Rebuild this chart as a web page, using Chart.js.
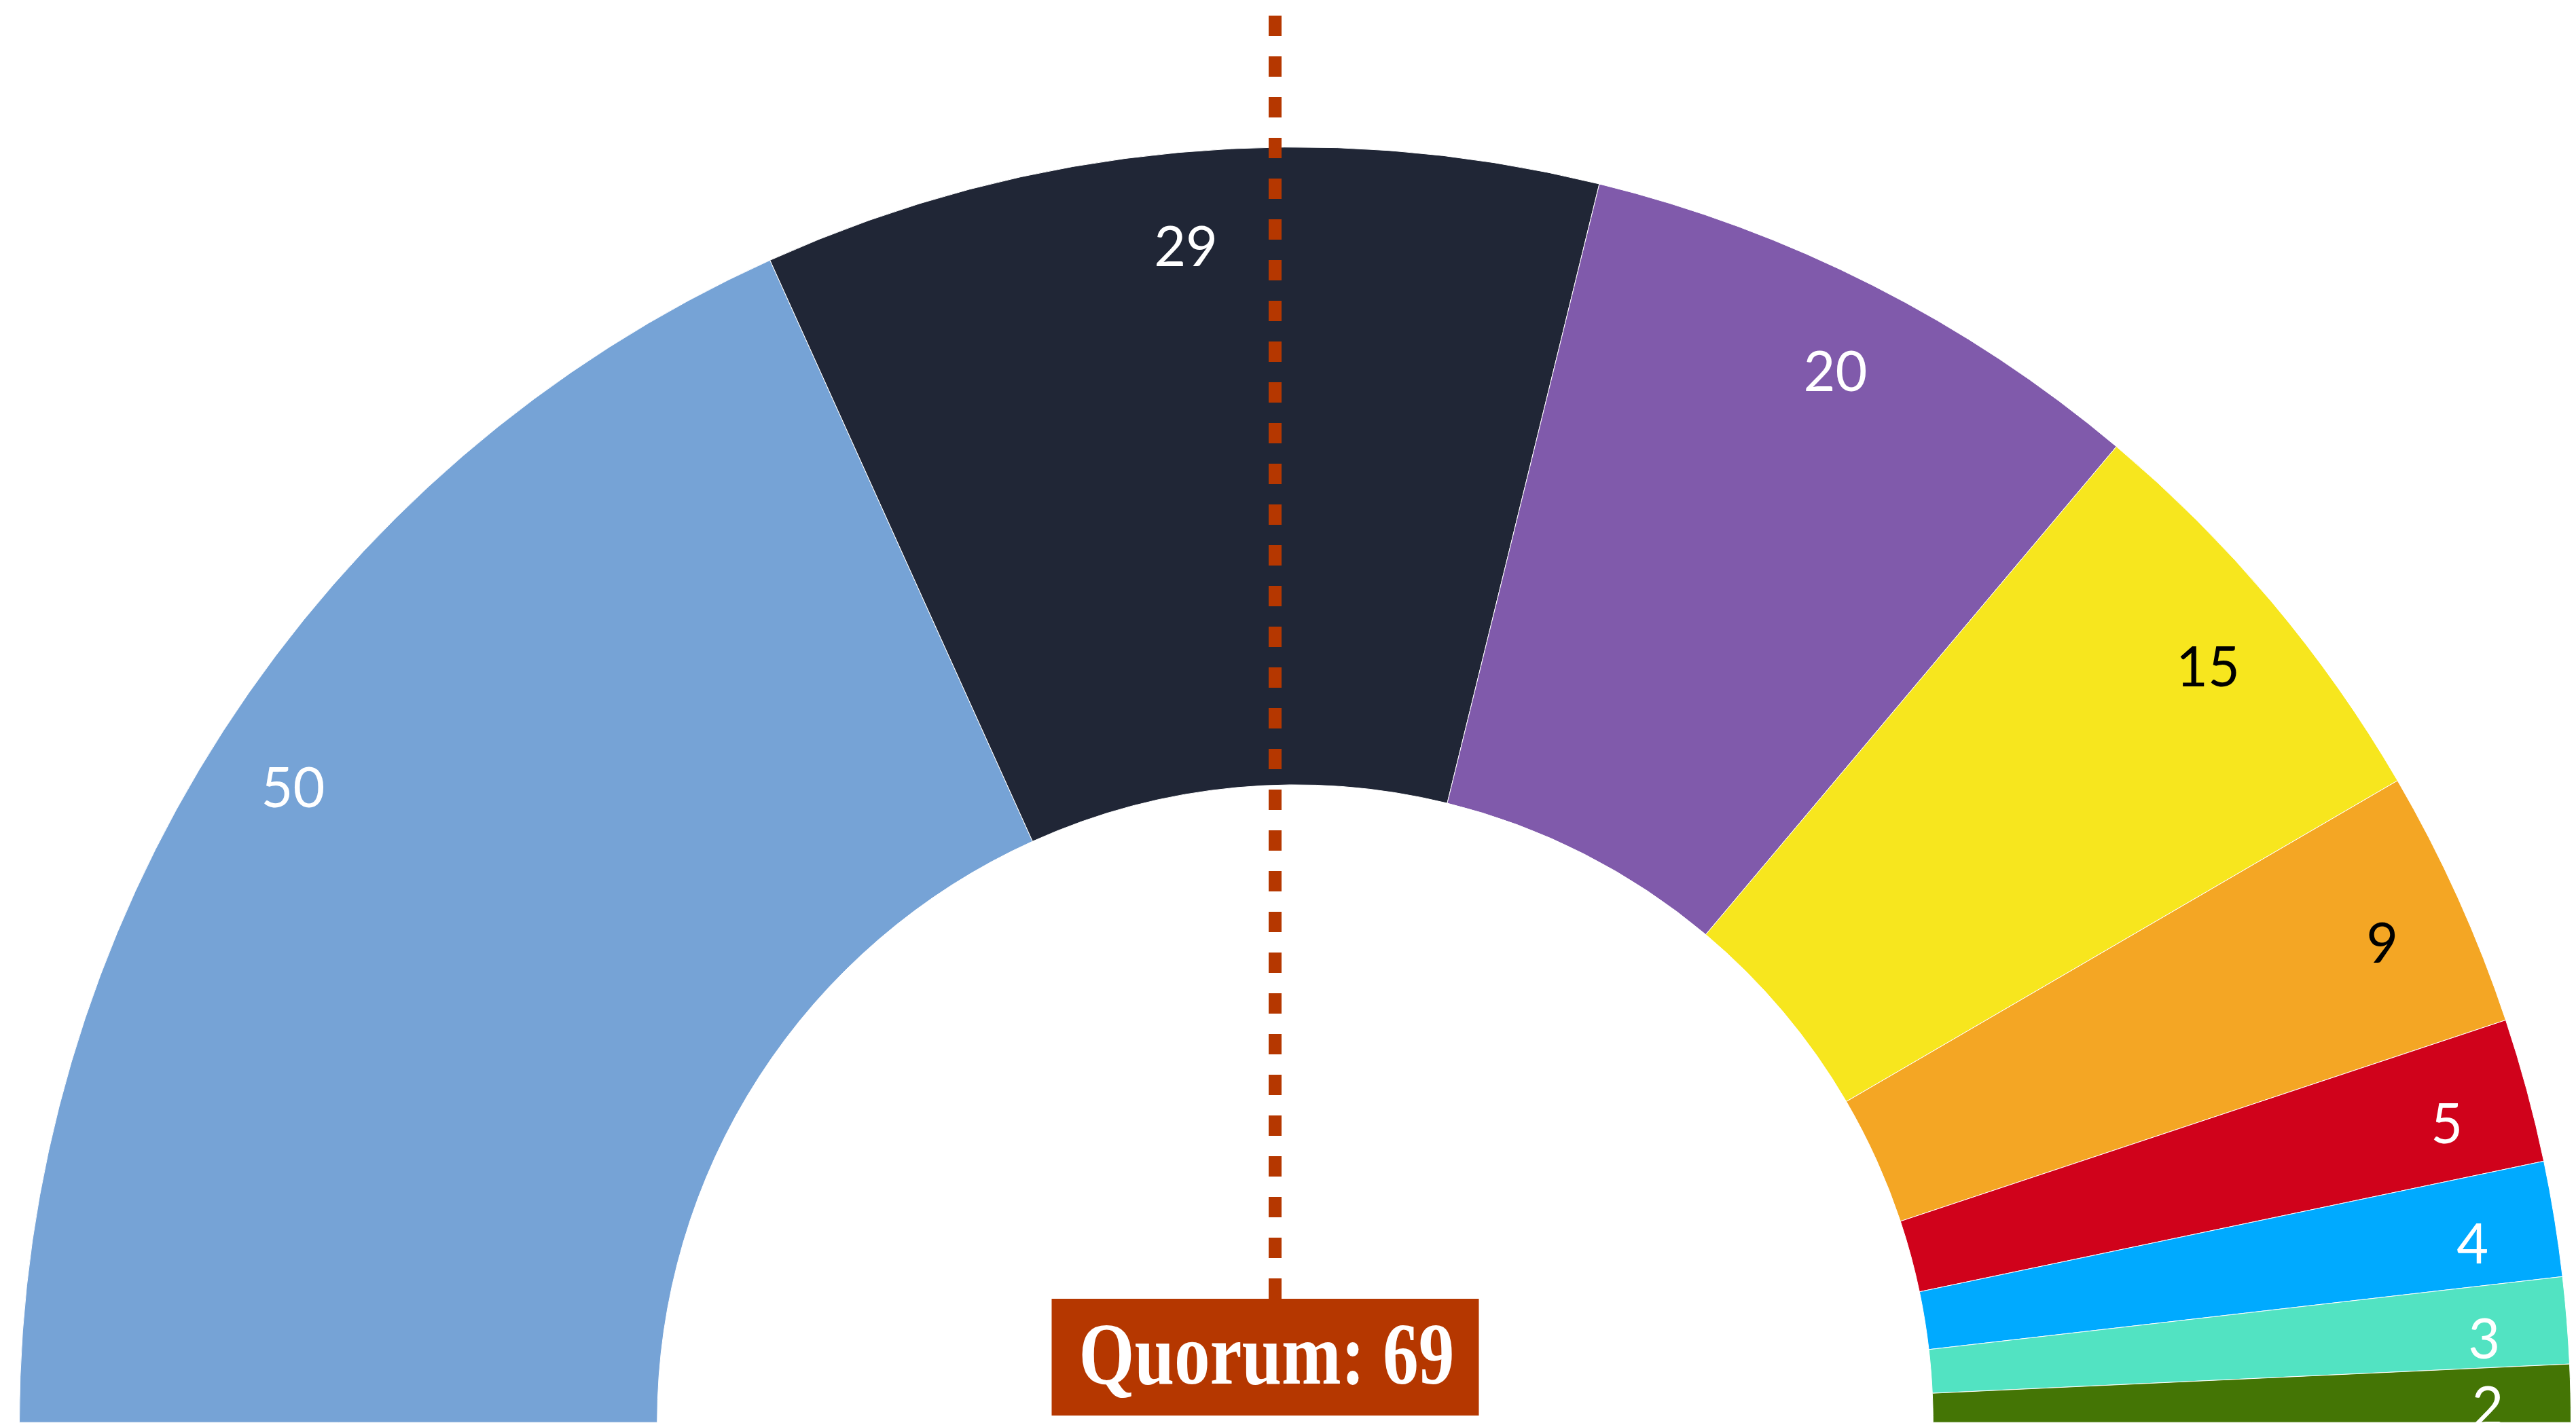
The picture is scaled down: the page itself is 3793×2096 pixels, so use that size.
<!DOCTYPE html>
<html>
<head>
<meta charset="utf-8">
<title>Seats</title>
<script src="https://cdn.jsdelivr.net/npm/chart.js@4.4.1/dist/chart.umd.min.js"></script>
<style>
  html, body { margin: 0; padding: 0; background: #ffffff; overflow: hidden; }
  #wrap { width: 3793px; height: 2096px; position: relative; }
</style>
</head>
<body>
<div id="wrap"><canvas id="seats-chart"></canvas></div>
<script>
// seats per party, left to right
const parties = ['Party 1', 'Party 2', 'Party 3', 'Party 4', 'Party 5', 'Party 6', 'Party 7', 'Party 8', 'Party 9'];
const seats = [50, 29, 20, 15, 9, 5, 4, 3, 2];
const quorum = 69;

const partyColors = ['#76a3d6', '#202636', '#805aab', '#f7e61e', '#f4a624', '#d0021b', '#00aaff', '#52e3c2', '#447505'];
const labelColors = ['#ffffff', '#ffffff', '#ffffff', '#000000', '#000000', '#ffffff', '#ffffff', '#ffffff', '#ffffff'];

// numbers inside each slice
const seatLabels = {
  id: 'seatLabels',
  afterDatasetsDraw(chart) {
    const ctx = chart.ctx;
    const meta = chart.getDatasetMeta(0);
    ctx.save();
    ctx.font = '400 81px Lato';
    ctx.textAlign = 'center';
    ctx.textBaseline = 'middle';
    meta.data.forEach((arc, i) => {
      const p = arc.getProps(['x', 'y', 'startAngle', 'endAngle', 'innerRadius', 'outerRadius'], true);
      const mid = (p.startAngle + p.endAngle) / 2;
      const r = p.innerRadius + 0.87 * (p.outerRadius - p.innerRadius);
      ctx.fillStyle = labelColors[i];
      ctx.fillText(String(seats[i]), p.x + Math.cos(mid) * r, p.y + Math.sin(mid) * r + 20);
    });
    ctx.restore();
  }
};

// dashed quorum line and its tag
const quorumMarker = {
  id: 'quorumMarker',
  afterDraw(chart) {
    const ctx = chart.ctx;
    const arc = chart.getDatasetMeta(0).data[0];
    const lineX = arc.x - 29.5;
    const boxTop = chart.height - 183;
    const boxH = 172;
    const boxLeft = lineX - 329;
    const boxW = 629;

    ctx.save();
    ctx.strokeStyle = '#b53700';
    ctx.lineWidth = 19;
    ctx.setLineDash([30, 30]);
    ctx.beginPath();
    ctx.moveTo(lineX, 23);
    ctx.lineTo(lineX, boxTop);
    ctx.stroke();

    ctx.setLineDash([]);
    ctx.fillStyle = '#b53700';
    ctx.fillRect(boxLeft, boxTop, boxW, boxH);

    ctx.fillStyle = '#ffffff';
    ctx.font = 'bold 130px "Liberation Serif"';
    ctx.textAlign = 'center';
    ctx.textBaseline = 'alphabetic';
    ctx.translate(boxLeft + boxW / 2 + 2, boxTop + 125);
    ctx.scale(0.81, 1);
    ctx.fillText('Quorum: ' + quorum, 0, 0);
    ctx.restore();
  }
};

new Chart(document.getElementById('seats-chart'), {
  type: 'doughnut',
  data: {
    labels: parties,
    datasets: [{
      data: seats,
      backgroundColor: partyColors,
      borderColor: '#ffffff',
      borderWidth: 1,
      hoverOffset: 0
    }]
  },
  options: {
    responsive: true,
    maintainAspectRatio: false,
    animation: false,
    rotation: -90,
    circumference: 180,
    cutout: '50%',
    layout: {
      padding: { top: 216, left: 28, right: 7, bottom: 0 }
    },
    plugins: {
      legend: { display: false },
      tooltip: { enabled: false }
    }
  },
  plugins: [seatLabels, quorumMarker]
});
</script>
</body>
</html>
